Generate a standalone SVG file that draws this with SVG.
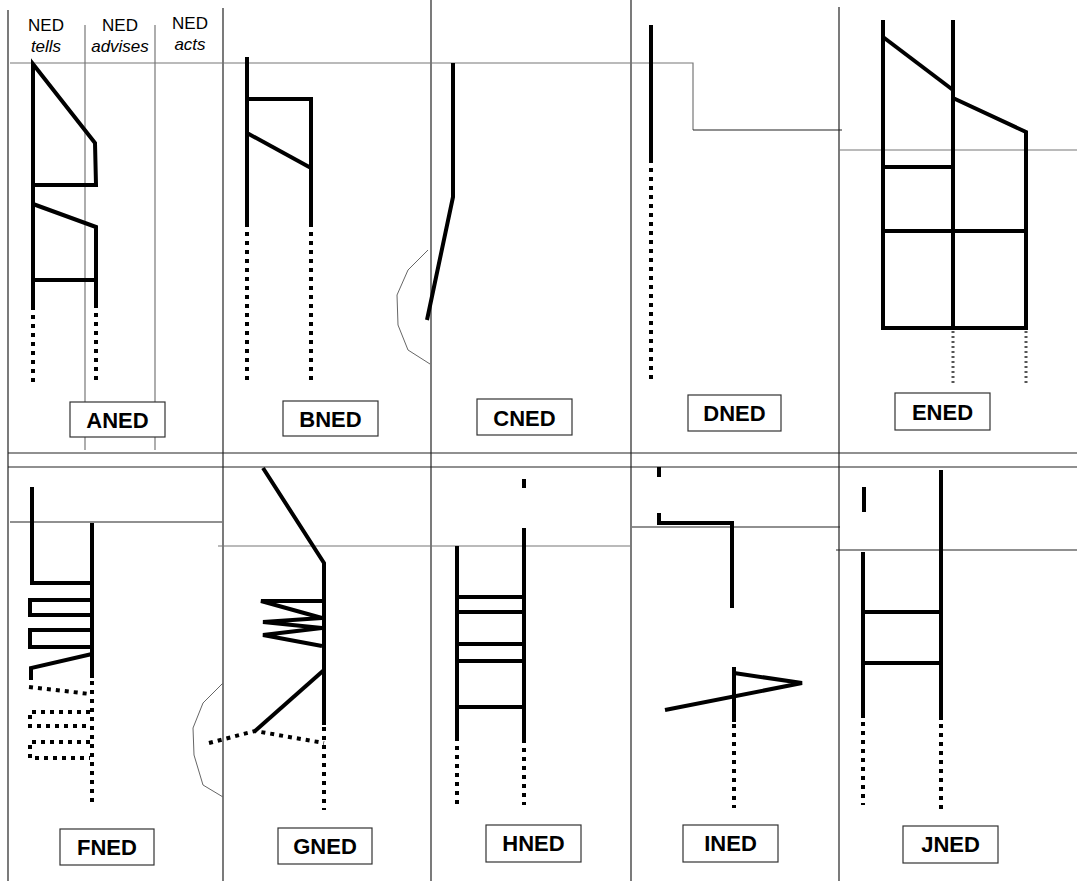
<svg xmlns="http://www.w3.org/2000/svg" width="1077" height="881" viewBox="0 0 1077 881">
<style>
.g{stroke:#222;stroke-width:1.2;fill:none}
.gl{stroke:#777;stroke-width:1.2;fill:none}
.t{stroke:#000;stroke-width:4;fill:none;stroke-linejoin:miter}
.d{stroke:#000;stroke-width:4;fill:none;stroke-dasharray:4 5}
.dd{stroke:#555;stroke-width:3;fill:none;stroke-dasharray:2 3}
.c{stroke:#666;stroke-width:1;fill:none}
.box{fill:#fff;stroke:#333;stroke-width:1.2}
.lbl{font-family:"Liberation Sans",Arial,sans-serif;font-weight:bold;font-size:22px;text-anchor:middle}
.hd{font-family:"Liberation Sans",Arial,sans-serif;font-size:17px;text-anchor:middle}
.it{font-style:italic}
</style>
<rect width="1077" height="881" fill="#fff"/>
<g id="grid">
<line class="g" x1="8" y1="10" x2="8" y2="881"/>
<line class="g" x1="223" y1="8" x2="223" y2="881"/>
<line class="g" x1="431" y1="0" x2="431" y2="881"/>
<line class="g" x1="631" y1="0" x2="631" y2="881"/>
<line class="g" x1="839" y1="7" x2="839" y2="881"/>
<line class="g" x1="8" y1="453" x2="1077" y2="453"/>
<line class="g" x1="8" y1="467" x2="1077" y2="467"/>
<line class="gl" x1="85" y1="25" x2="85" y2="450"/>
<line class="gl" x1="155" y1="25" x2="155" y2="450"/>
<polyline class="gl" points="10,63 693,63 693,130"/>
<line class="g" x1="693" y1="130" x2="842" y2="130"/>
<line class="gl" x1="839" y1="150" x2="1077" y2="150"/>
<line class="g" x1="10" y1="522" x2="222" y2="522"/>
<line class="gl" x1="218" y1="546" x2="630" y2="546"/>
<line class="g" x1="632" y1="527" x2="840" y2="527"/>
<line class="g" x1="836" y1="550" x2="1077" y2="550"/>
<polyline class="c" points="428,250 408,270 397,295 398,325 408,350 430,364"/>
<polyline class="c" points="223,683 203,703 193,728 194,755 203,785 223,797"/>
</g>
<g id="header">
<text class="hd" x="46" y="31">NED</text>
<text class="hd it" x="46" y="52">tells</text>
<text class="hd" x="120" y="31">NED</text>
<text class="hd it" x="120" y="52">advises</text>
<text class="hd" x="190" y="29">NED</text>
<text class="hd it" x="190" y="50">acts</text>
</g>
<g id="ANED">
<polyline class="t" points="33,310 33,64 95,143 96,185 33,185"/>
<polyline class="t" points="33,204 96,227 96,308"/>
<line class="t" x1="33" y1="280" x2="96" y2="280"/>
<line class="d" x1="33" y1="315" x2="33" y2="384"/>
<line class="d" x1="96" y1="313" x2="96" y2="382"/>
<rect class="box" x="70" y="402" width="95" height="35"/>
<text class="lbl" x="117.5" y="428">ANED</text>
</g>
<g id="BNED">
<line class="t" x1="247" y1="57" x2="247" y2="227"/>
<polyline class="t" points="247,99 311,99 311,227"/>
<line class="t" x1="247" y1="133" x2="311" y2="168"/>
<line class="d" x1="247" y1="232" x2="247" y2="383"/>
<line class="d" x1="311" y1="232" x2="311" y2="383"/>
<rect class="box" x="283" y="401" width="95" height="35"/>
<text class="lbl" x="330.5" y="427">BNED</text>
</g>
<g id="CNED">
<polyline class="t" points="453,63 453,197 427,320"/>
<rect class="box" x="477" y="399" width="95" height="36"/>
<text class="lbl" x="524.5" y="426">CNED</text>
</g>
<g id="DNED">
<line class="t" x1="651" y1="25" x2="651" y2="163"/>
<line class="d" x1="651" y1="168" x2="651" y2="383"/>
<rect class="box" x="688" y="395" width="93" height="36"/>
<text class="lbl" x="734.5" y="421">DNED</text>
</g>
<g id="ENED">
<line class="t" x1="883" y1="20" x2="883" y2="328"/>
<line class="t" x1="953" y1="20" x2="953" y2="328"/>
<polyline class="t" points="883,37 953,90"/>
<polyline class="t" points="953,98 1026,132 1026,328"/>
<line class="t" x1="881" y1="328" x2="1028" y2="328"/>
<line class="t" x1="883" y1="167" x2="953" y2="167"/>
<line class="t" x1="883" y1="231" x2="1026" y2="231"/>
<line class="dd" x1="953" y1="331" x2="953" y2="386"/>
<line class="dd" x1="1026" y1="331" x2="1026" y2="386"/>
<rect class="box" x="895" y="393" width="95" height="37"/>
<text class="lbl" x="942.5" y="420">ENED</text>
</g>
<g id="FNED">
<polyline class="t" points="32,487 32,583 92,583"/>
<line class="t" x1="92" y1="523" x2="92" y2="678"/>
<polyline class="t" points="92,600 30,600 30,615 92,615"/>
<polyline class="t" points="92,630 30,630 30,647 92,647"/>
<polyline class="t" points="92,654 31,668 31,680"/>
<line class="d" x1="92" y1="681" x2="92" y2="802"/>
<line class="d" x1="29" y1="687" x2="90" y2="694"/>
<polyline class="d" points="90,712 30,712 30,726 90,726"/>
<polyline class="d" points="90,742 30,742 30,758 90,758"/>
<rect class="box" x="60" y="829" width="94" height="36"/>
<text class="lbl" x="107" y="855">FNED</text>
</g>
<g id="GNED">
<polyline class="t" points="263,468 324,563 324,725"/>
<polyline class="t" points="324,601 261,601 322,618 263,622 322,628 263,635 322,646"/>
<line class="t" x1="324" y1="670" x2="255" y2="731"/>
<polyline class="d" points="209,743 255,731 324,743"/>
<line class="d" x1="324" y1="727" x2="324" y2="810"/>
<rect class="box" x="278" y="828" width="94" height="36"/>
<text class="lbl" x="325" y="854">GNED</text>
</g>
<g id="HNED">
<line class="t" x1="524" y1="479" x2="524" y2="488"/>
<line class="t" x1="524" y1="528" x2="524" y2="743"/>
<line class="t" x1="457" y1="546" x2="457" y2="741"/>
<line class="t" x1="457" y1="597" x2="524" y2="597"/>
<line class="t" x1="457" y1="612" x2="524" y2="612"/>
<line class="t" x1="457" y1="644" x2="524" y2="644"/>
<line class="t" x1="457" y1="661" x2="524" y2="661"/>
<line class="t" x1="457" y1="707" x2="524" y2="707"/>
<line class="d" x1="524" y1="748" x2="524" y2="805"/>
<line class="d" x1="457" y1="746" x2="457" y2="805"/>
<rect class="box" x="486" y="825" width="95" height="37"/>
<text class="lbl" x="533.5" y="851">HNED</text>
</g>
<g id="INED">
<line class="t" x1="659" y1="467" x2="659" y2="477"/>
<polyline class="t" points="659,513 659,523 732,523 732,608"/>
<line class="t" x1="734" y1="667" x2="734" y2="722"/>
<polyline class="t" points="734,673 802,683 665,710"/>
<line class="d" x1="734" y1="724" x2="734" y2="808"/>
<rect class="box" x="683" y="825" width="95" height="37"/>
<text class="lbl" x="730.5" y="851">INED</text>
</g>
<g id="JNED">
<line class="t" x1="864" y1="487" x2="864" y2="512"/>
<line class="t" x1="941" y1="470" x2="941" y2="720"/>
<line class="t" x1="863" y1="552" x2="863" y2="718"/>
<line class="t" x1="863" y1="612" x2="941" y2="612"/>
<line class="t" x1="863" y1="663" x2="941" y2="663"/>
<line class="d" x1="941" y1="724" x2="941" y2="809"/>
<line class="d" x1="863" y1="722" x2="863" y2="805"/>
<rect class="box" x="903" y="826" width="95" height="37"/>
<text class="lbl" x="950.5" y="852">JNED</text>
</g>
</svg>
